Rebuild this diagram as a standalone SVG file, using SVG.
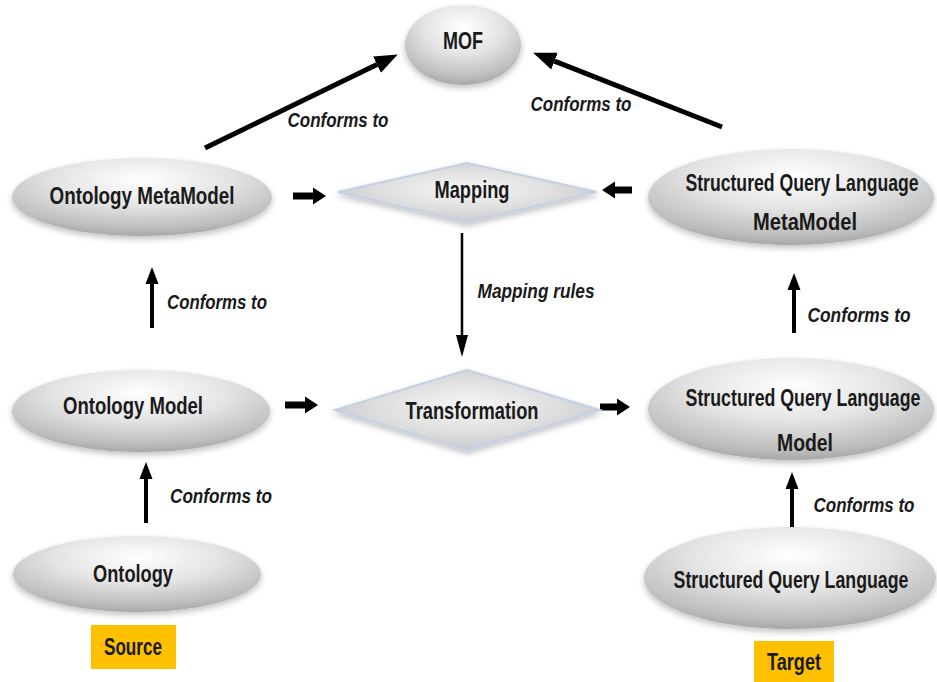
<svg xmlns="http://www.w3.org/2000/svg" width="937" height="682" viewBox="0 0 937 682">
  <defs>
    <radialGradient id="orb" cx="0.5" cy="0.28" r="0.8">
      <stop offset="0" stop-color="#ffffff"/>
      <stop offset="0.42" stop-color="#e4e4e4"/>
      <stop offset="0.78" stop-color="#bdbdbd"/>
      <stop offset="1" stop-color="#959595"/>
    </radialGradient>
    <radialGradient id="gem" cx="0.5" cy="0.45" r="0.6">
      <stop offset="0" stop-color="#f7f7f7"/>
      <stop offset="0.6" stop-color="#dcdcdc"/>
      <stop offset="1" stop-color="#c4c6cc"/>
    </radialGradient>
    <filter id="soft" x="-10%" y="-20%" width="120%" height="150%">
      <feGaussianBlur in="SourceAlpha" stdDeviation="3"/>
      <feOffset dy="3" result="b"/>
      <feComponentTransfer><feFuncA type="linear" slope="0.25"/></feComponentTransfer>
      <feMerge><feMergeNode/><feMergeNode in="SourceGraphic"/></feMerge>
    </filter>
    <marker id="headL" markerUnits="userSpaceOnUse" markerWidth="24" markerHeight="20" refX="0" refY="10" orient="auto">
      <path d="M0,1 L23,10 L0,19 z" fill="#000"/>
    </marker>
    <marker id="headM" markerUnits="userSpaceOnUse" markerWidth="18" markerHeight="14" refX="0" refY="7" orient="auto">
      <path d="M0,0.5 L17,7 L0,13.5 z" fill="#000"/>
    </marker>
    <marker id="headS" markerUnits="userSpaceOnUse" markerWidth="14" markerHeight="18" refX="0" refY="9" orient="auto">
      <path d="M0,0.5 L13,9 L0,17.5 z" fill="#000"/>
    </marker>
    <marker id="headT" markerUnits="userSpaceOnUse" markerWidth="23" markerHeight="14" refX="0" refY="7" orient="auto">
      <path d="M0,1 L22,7 L0,13 z" fill="#000"/>
    </marker>
  </defs>
  <style>
    .orb { fill: url(#orb); filter: url(#soft); }
    .gem { fill: url(#gem); stroke: #c3d0e6; stroke-width: 2; filter: url(#soft); }
    .lbl { font-family: "Liberation Sans", Arial, sans-serif; font-weight: bold; font-size: 24px; fill: #1a1a1a; text-anchor: middle; }
    .note { font-family: "Liberation Sans", Arial, sans-serif; font-weight: bold; font-style: italic; font-size: 20px; fill: #1a1a1a; text-anchor: middle; }
    .tag { fill: #ffc000; }
    .big { stroke: #000; stroke-width: 5; fill: none; marker-end: url(#headL); }
    .up { stroke: #000; stroke-width: 4; fill: none; marker-end: url(#headM); }
    .side { stroke: #000; stroke-width: 7; fill: none; marker-end: url(#headS); }
    .thin { stroke: #000; stroke-width: 2.5; fill: none; marker-end: url(#headT); }
  </style>

  <rect width="937" height="682" fill="#ffffff"/>

  <g id="connectors">
    <line class="big" x1="205" y1="148" x2="377" y2="64.6"/>
    <line class="big" x1="722" y1="127" x2="554.5" y2="61.1"/>
    <line class="side" x1="293" y1="196" x2="313" y2="196"/>
    <line class="side" x1="632" y1="190" x2="615" y2="190"/>
    <line class="side" x1="285" y1="405" x2="305" y2="405"/>
    <line class="side" x1="600" y1="407" x2="617" y2="407"/>
    <line class="thin" x1="462" y1="233" x2="462" y2="335"/>
    <line class="up" x1="152" y1="328" x2="152" y2="284"/>
    <line class="up" x1="146" y1="523" x2="146" y2="479"/>
    <line class="up" x1="794" y1="333" x2="794" y2="290"/>
    <line class="up" x1="792" y1="532" x2="792" y2="489"/>
    <text class="note" x="338" y="127" textLength="101" lengthAdjust="spacingAndGlyphs">Conforms to</text>
    <text class="note" x="581" y="111" textLength="101" lengthAdjust="spacingAndGlyphs">Conforms to</text>
    <text class="note" x="536" y="298" textLength="117" lengthAdjust="spacingAndGlyphs">Mapping rules</text>
    <text class="note" x="217" y="309" textLength="100" lengthAdjust="spacingAndGlyphs">Conforms to</text>
    <text class="note" x="859" y="322" textLength="103" lengthAdjust="spacingAndGlyphs">Conforms to</text>
    <text class="note" x="221" y="503" textLength="102" lengthAdjust="spacingAndGlyphs">Conforms to</text>
    <text class="note" x="864" y="512" textLength="101" lengthAdjust="spacingAndGlyphs">Conforms to</text>
  </g>

  <g id="mof">
    <ellipse class="orb" cx="463" cy="45" rx="58" ry="40"/>
    <text class="lbl" x="463" y="49" textLength="40" lengthAdjust="spacingAndGlyphs">MOF</text>
  </g>

  <g id="ontology-metamodel">
    <ellipse class="orb" cx="142" cy="197" rx="130" ry="39"/>
    <text class="lbl" x="142" y="204" textLength="185" lengthAdjust="spacingAndGlyphs">Ontology MetaModel</text>
  </g>

  <g id="mapping">
    <polygon class="gem" points="338,192 467,163 597,192 467,222"/>
    <text class="lbl" x="472" y="198" textLength="75" lengthAdjust="spacingAndGlyphs">Mapping</text>
  </g>

  <g id="sql-metamodel">
    <ellipse class="orb" cx="791" cy="197" rx="143" ry="48"/>
    <text class="lbl" transform="translate(802,191) scale(0.735,1)">Structured Query Language</text>
    <text class="lbl" x="805" y="230" textLength="104" lengthAdjust="spacingAndGlyphs">MetaModel</text>
  </g>

  <g id="ontology-model">
    <ellipse class="orb" cx="141" cy="411" rx="129" ry="41"/>
    <text class="lbl" x="133" y="414" textLength="140" lengthAdjust="spacingAndGlyphs">Ontology Model</text>
  </g>

  <g id="transformation">
    <polygon class="gem" points="335,410 467,370 600,410 467,450"/>
    <text class="lbl" x="472" y="419" textLength="133" lengthAdjust="spacingAndGlyphs">Transformation</text>
  </g>

  <g id="sql-model">
    <ellipse class="orb" cx="791" cy="409" rx="143" ry="51"/>
    <text class="lbl" transform="translate(803,406) scale(0.74,1)">Structured Query Language</text>
    <text class="lbl" x="805" y="451" textLength="56" lengthAdjust="spacingAndGlyphs">Model</text>
  </g>

  <g id="ontology">
    <ellipse class="orb" cx="137" cy="574" rx="124" ry="38"/>
    <text class="lbl" x="133" y="582" textLength="80" lengthAdjust="spacingAndGlyphs">Ontology</text>
  </g>

  <g id="sql">
    <ellipse class="orb" cx="790" cy="578" rx="146" ry="51"/>
    <text class="lbl" transform="translate(791,588) scale(0.74,1)">Structured Query Language</text>
  </g>

  <g id="source">
    <rect class="tag" x="91" y="625" width="85" height="44"/>
    <text class="lbl" x="133" y="655" font-size="21" textLength="58" lengthAdjust="spacingAndGlyphs">Source</text>
  </g>

  <g id="target">
    <rect class="tag" x="754" y="641" width="80" height="41"/>
    <text class="lbl" x="794" y="670" font-size="21" textLength="54" lengthAdjust="spacingAndGlyphs">Target</text>
  </g>
</svg>
